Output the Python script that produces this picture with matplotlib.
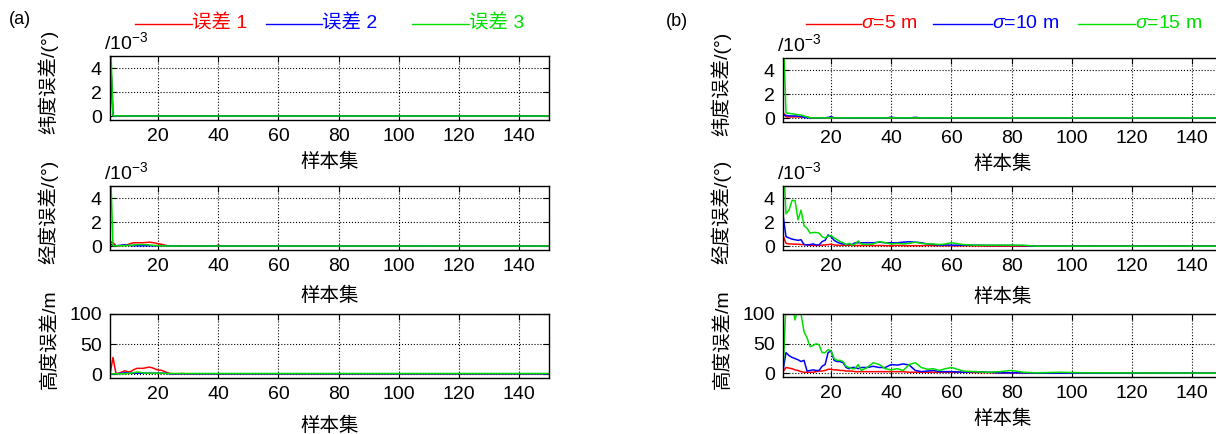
import numpy as np
import matplotlib
matplotlib.use("Agg")
import matplotlib.pyplot as plt
from matplotlib.lines import Line2D

plt.rcParams['font.family'] = ['Liberation Sans', 'Noto Sans CJK SC']
plt.rcParams['mathtext.fontset'] = 'custom'
plt.rcParams['mathtext.rm'] = 'Liberation Sans'
plt.rcParams['mathtext.it'] = 'Liberation Sans:italic'

# ---------------- data ----------------
xticks = [20, 40, 60, 80, 100, 120, 140]

# (a) sample axis
x_a = list(range(4, 31)) + [35, 39, 40, 41, 45, 60, 100, 150]

# latitude error (x1e-3 deg)
a_lat_red = [6.0, 0.05, 0.04, 0.04, 0.04, 0.04, 0.03, 0.03, 0.03, 0.03, 0.03, 0.03,
             0.03, 0.03, 0.03, 0.03, 0.03, 0.03, 0.03, 0.03, 0.03, 0.03, 0.03, 0.03,
             0.03, 0.03, 0.03, 0.03, 0.03, 0.03, 0.03, 0.03, 0.03, 0.03, 0.03]
a_lat_blue = [6.0, 0.05, 0.04, 0.04, 0.04, 0.04, 0.03, 0.03, 0.03, 0.03, 0.03, 0.03,
              0.03, 0.03, 0.03, 0.03, 0.03, 0.03, 0.03, 0.03, 0.03, 0.03, 0.03, 0.03,
              0.03, 0.03, 0.03, 0.03, 0.03, 0.03, 0.03, 0.03, 0.03, 0.03, 0.03]
a_lat_green = [8.0, 0.04, 0.04, 0.04, 0.04, 0.04, 0.03, 0.03, 0.03, 0.03, 0.03, 0.03,
               0.03, 0.03, 0.03, 0.03, 0.03, 0.03, 0.03, 0.03, 0.03, 0.03, 0.03, 0.03,
               0.03, 0.03, 0.03, 0.03, 0.03, 0.03, 0.03, 0.03, 0.03, 0.03, 0.03]

# longitude error (x1e-3 deg)
a_lon_red = [0.4, 0.3, 0.05, 0.05, 0.08, 0.1, 0.15, 0.25, 0.3, 0.3, 0.3, 0.3,
             0.32, 0.35, 0.32, 0.28, 0.22, 0.18, 0.12, 0.06, 0.05, 0.04, 0.03, 0.06,
             0.03, 0.03, 0.03, 0.03, 0.03, 0.1, 0.03, 0.03, 0.03, 0.03, 0.03]
a_lon_blue = [0.2, 0.1, 0.05, 0.08, 0.1, 0.12, 0.1, 0.06, 0.05, 0.05, 0.05, 0.05,
              0.05, 0.05, 0.05, 0.05, 0.06, 0.06, 0.06, 0.05, 0.04, 0.03, 0.03, 0.03,
              0.03, 0.03, 0.03, 0.03, 0.03, 0.03, 0.03, 0.03, 0.03, 0.03, 0.03]
a_lon_green = [8.0, 0.05, 0.05, 0.05, 0.05, 0.06, 0.08, 0.1, 0.12, 0.14, 0.15, 0.15,
               0.14, 0.12, 0.1, 0.08, 0.06, 0.05, 0.04, 0.03, 0.03, 0.03, 0.03, 0.03,
               0.03, 0.03, 0.03, 0.03, 0.03, 0.03, 0.03, 0.03, 0.03, 0.03, 0.03]

# height error (m)
a_h_red = [0, 28, 1, 2, 4, 6, 4, 5, 8, 10, 10, 10,
           11, 12, 11, 9, 7, 7, 5, 3, 1.5, 1, 1, 1,
           1.5, 1, 1, 1, 1, 1, 1, 1, 1, 1, 1]
a_h_blue = [0, 1, 1, 1.5, 2, 2.5, 2, 2, 2, 2, 2, 2,
            2, 2, 2, 2, 2, 2, 2, 1.5, 1, 1, 1, 1,
            1, 1, 1, 1, 1, 1, 1, 1, 1, 1, 1]
a_h_green = [0, 1, 1, 1, 1, 1, 1.5, 2, 3, 4, 3.5, 2.5,
             2, 2, 2, 2, 2, 2, 1.5, 1.5, 1.5, 1.5, 1.5, 1.5,
             1.5, 1.5, 1.5, 1.5, 1.5, 1.5, 1.5, 1.5, 1.5, 1.5, 1.5]

# (b) sample axis
x_b = list(range(4, 31)) + list(range(32, 61, 2)) + list(range(64, 105, 4)) + [150]

b_lat_red = [0.5, 0.12, 0.12, 0.12, 0.12, 0.12, 0.12, 0.12, 0.12, 0.05,
             0.03, 0.03, 0.03, 0.03, 0.03, 0.03, 0.03, 0.03, 0.03, 0.03, 0.03, 0.03,
             0.03, 0.03, 0.03, 0.03, 0.03,
             0.03, 0.03, 0.03, 0.03, 0.03, 0.03, 0.03, 0.03, 0.03, 0.03, 0.03, 0.03,
             0.03, 0.03, 0.03,
             0.03, 0.03, 0.03, 0.03, 0.03, 0.03, 0.03, 0.03, 0.03, 0.03, 0.03, 0.03]
b_lat_blue = [0.3, 0.25, 0.2, 0.2, 0.2, 0.18, 0.15, 0.08, 0.05,
              0.04, 0.04, 0.04, 0.04, 0.04, 0.04, 0.08, 0.15, 0.05,
              0.03, 0.03, 0.03, 0.03, 0.03, 0.03, 0.03, 0.03, 0.03,
              0.03, 0.03, 0.03, 0.03, 0.1, 0.03, 0.03, 0.03, 0.09, 0.03, 0.03, 0.03,
              0.03, 0.03, 0.03,
              0.03, 0.03, 0.03, 0.03, 0.03, 0.03, 0.03, 0.03, 0.03, 0.03, 0.03, 0.03]
b_lat_green = [8.0, 0.45, 0.42, 0.38, 0.35, 0.3, 0.28, 0.2, 0.12, 0.06,
               0.04, 0.04, 0.04, 0.04, 0.04, 0.04, 0.04, 0.04, 0.04, 0.04, 0.04, 0.04,
               0.04, 0.04, 0.04, 0.04, 0.04,
               0.04, 0.04, 0.04, 0.04, 0.04, 0.04, 0.04, 0.04, 0.04, 0.04, 0.04, 0.04,
               0.04, 0.04, 0.04,
               0.04, 0.04, 0.04, 0.04, 0.04, 0.04, 0.04, 0.04, 0.04, 0.04, 0.04, 0.04]

b_lon_red = [0.9, 0.25, 0.2, 0.2, 0.18, 0.18, 0.15, 0.15, 0.12, 0.1, 0.08, 0.08,
             0.08, 0.1, 0.12, 0.15, 0.18, 0.12, 0.1, 0.08, 0.1, 0.08, 0.1, 0.08,
             0.06, 0.08, 0.06,
             0.08, 0.06, 0.08, 0.06, 0.05, 0.08, 0.06, 0.05, 0.06, 0.05, 0.08, 0.06,
             0.05, 0.06, 0.05,
             0.05, 0.04, 0.03, 0.02, 0.02, 0.02, 0.02, 0.02, 0.02, 0.02, 0.02, 0.02]
b_lon_blue = [2.6, 0.8, 0.7, 0.6, 0.55, 0.5, 0.55, 0.15, 0.12, 0.15, 0.2, 0.12,
              0.12, 0.4, 0.5, 0.95, 0.8, 0.5, 0.35, 0.25, 0.2, 0.15, 0.2, 0.15,
              0.3, 0.3, 0.3,
              0.3, 0.3, 0.35, 0.3, 0.3, 0.3, 0.35, 0.38, 0.35, 0.3, 0.2, 0.15,
              0.1, 0.12, 0.1,
              0.1, 0.1, 0.08, 0.08, 0.08, 0.06, 0.02, 0.02, 0.02, 0.02, 0.02, 0.02]
b_lon_green = [8.0, 2.7, 3.0, 3.8, 3.8, 2.2, 3.0, 1.7, 1.5, 1.1, 1.15, 1.15,
               1.1, 0.8, 0.7, 0.85, 0.9, 0.7, 0.55, 0.4, 0.3, 0.15, 0.25, 0.1,
               0.2, 0.45, 0.2,
               0.15, 0.2, 0.4, 0.3, 0.2, 0.25, 0.2, 0.25, 0.35, 0.25, 0.2, 0.2,
               0.15, 0.2, 0.3,
               0.15, 0.1, 0.1, 0.1, 0.1, 0.1, 0.02, 0.02, 0.02, 0.02, 0.02, 0.02]

b_h_red = [3, 10, 9, 8, 6, 5, 3, 2, 2, 2, 2, 3,
           4, 4, 5, 7, 7, 6, 6, 5, 5, 4, 4, 4,
           3, 3, 3,
           3, 3, 3, 3, 3, 3, 3, 2, 2, 2, 2, 2,
           2, 2, 2,
           2, 1.5, 1.5, 1, 1, 1, 0.5, 0.5, 0.5, 0.5, 0.5, 0.5]
b_h_blue = [5, 35, 30, 27, 25, 23, 20, 22, 4, 5, 6, 5,
            5, 12, 15, 35, 38, 22, 20, 20, 18, 10, 8, 10,
            10, 8, 10,
            10, 12, 10, 10, 15, 14, 16, 14, 5, 3, 4, 5,
            3, 3, 3,
            2, 3, 2, 1, 1, 1, 0.5, 0.5, 0.5, 0.5, 0.5, 0.5]
b_h_green = [0, 120, 120, 120, 90, 110, 100, 70, 60, 45, 47, 50,
             48, 35, 35, 40, 38, 25, 22, 22, 20, 12, 10, 8,
             8, 15, 5,
             10, 18, 15, 8, 6, 8, 5, 15, 18, 10, 7, 8,
             5, 8, 10,
             4, 3, 2, 3, 5, 2, 1, 1.5, 2, 1.5, 1, 0.5]

legend_a = ['误差 1', '误差 2', '误差 3']
legend_b = [r'$\sigma$=5 m', r'$\sigma$=10 m', r'$\sigma$=15 m']
ylabels = ['纬度误差/(°)', '经度误差/(°)', '高度误差/m']
colors = ['#ff0000', '#0000ff', '#00e000']

W, H = 1216, 434
fig = plt.figure(figsize=(W / 100, H / 100), dpi=100)


def px_axes(x0, top, bottom, width=439):
    return fig.add_axes([x0 / W, 1 - bottom / H, width / W, (bottom - top) / H])


def style(ax, ylim, yticks, ylabel, labelpad, scale=False):
    ax.set_xlim(4, 150)
    ax.set_ylim(*ylim)
    ax.set_xticks(xticks)
    ax.set_yticks(yticks)
    ax.grid(True, color='k', linestyle=':', linewidth=0.8)
    ax.tick_params(direction='in', top=True, right=True, labelsize=14,
                   pad=6, length=4, width=0.8)
    for s in ax.spines.values():
        s.set_linewidth(1.0)
    ax.set_xlabel('样本集', fontsize=14, labelpad=labelpad)
    ax.set_ylabel(ylabel, fontsize=14)
    ax.yaxis.set_label_coords(-0.117, 0.6)
    if scale:
        ax.annotate(r'/10$^{-3}$', xy=(0, 1), xycoords='axes fraction',
                    xytext=(-4, 2), textcoords='offset points',
                    ha='left', va='bottom', fontsize=14)


def draw(ax, x, series):
    for y, c in zip(series, colors):
        ax.plot(x, y, color=c, linewidth=1.1)


# (a) panels
ax = px_axes(110, 56, 120)
draw(ax, x_a, [a_lat_red, a_lat_blue, a_lat_green])
style(ax, (-0.3, 5), [0, 2, 4], ylabels[0], 5.5, scale=True)

ax = px_axes(110, 186, 250)
draw(ax, x_a, [a_lon_red, a_lon_blue, a_lon_green])
style(ax, (-0.3, 5), [0, 2, 4], ylabels[1], 8, scale=True)

ax = px_axes(110, 314, 378)
draw(ax, x_a, [a_h_red, a_h_blue, a_h_green])
style(ax, (-6, 100), [0, 50, 100], ylabels[2], 9.5)

# (b) panels (right edge runs past the figure, as in the source)
ax = px_axes(783, 58, 122)
draw(ax, x_b, [b_lat_red, b_lat_blue, b_lat_green])
style(ax, (-0.3, 5), [0, 2, 4], ylabels[0], 5.5, scale=True)

ax = px_axes(783, 186, 250)
draw(ax, x_b, [b_lon_red, b_lon_blue, b_lon_green])
style(ax, (-0.3, 5), [0, 2, 4], ylabels[1], 9, scale=True)

ax = px_axes(783, 314, 377)
draw(ax, x_b, [b_h_red, b_h_blue, b_h_green])
style(ax, (-6, 100), [0, 50, 100], ylabels[2], 5)

# panel tags
fig.text(20 / W, 1 - 20 / H, '(a)', fontsize=13, ha='center', va='center')
fig.text(677 / W, 1 - 21 / H, '(b)', fontsize=13, ha='center', va='center')


# legends: short line followed directly by coloured text
def legend_row(starts, ends, labels, y=24):
    for x0, x1, lab, c in zip(starts, ends, labels, colors):
        fig.add_artist(Line2D([x0 / W, x1 / W], [1 - y / H, 1 - y / H],
                              transform=fig.transFigure, color=c, linewidth=1.0))
        fig.text(x1 / W, 1 - y / H, lab, color=c, fontsize=14,
                 ha='left', va='center')


legend_row([135, 266, 412], [192, 322, 469], legend_a)
legend_row([806, 933, 1078], [861, 992, 1135], legend_b)

fig.savefig('out.png', dpi=100)
